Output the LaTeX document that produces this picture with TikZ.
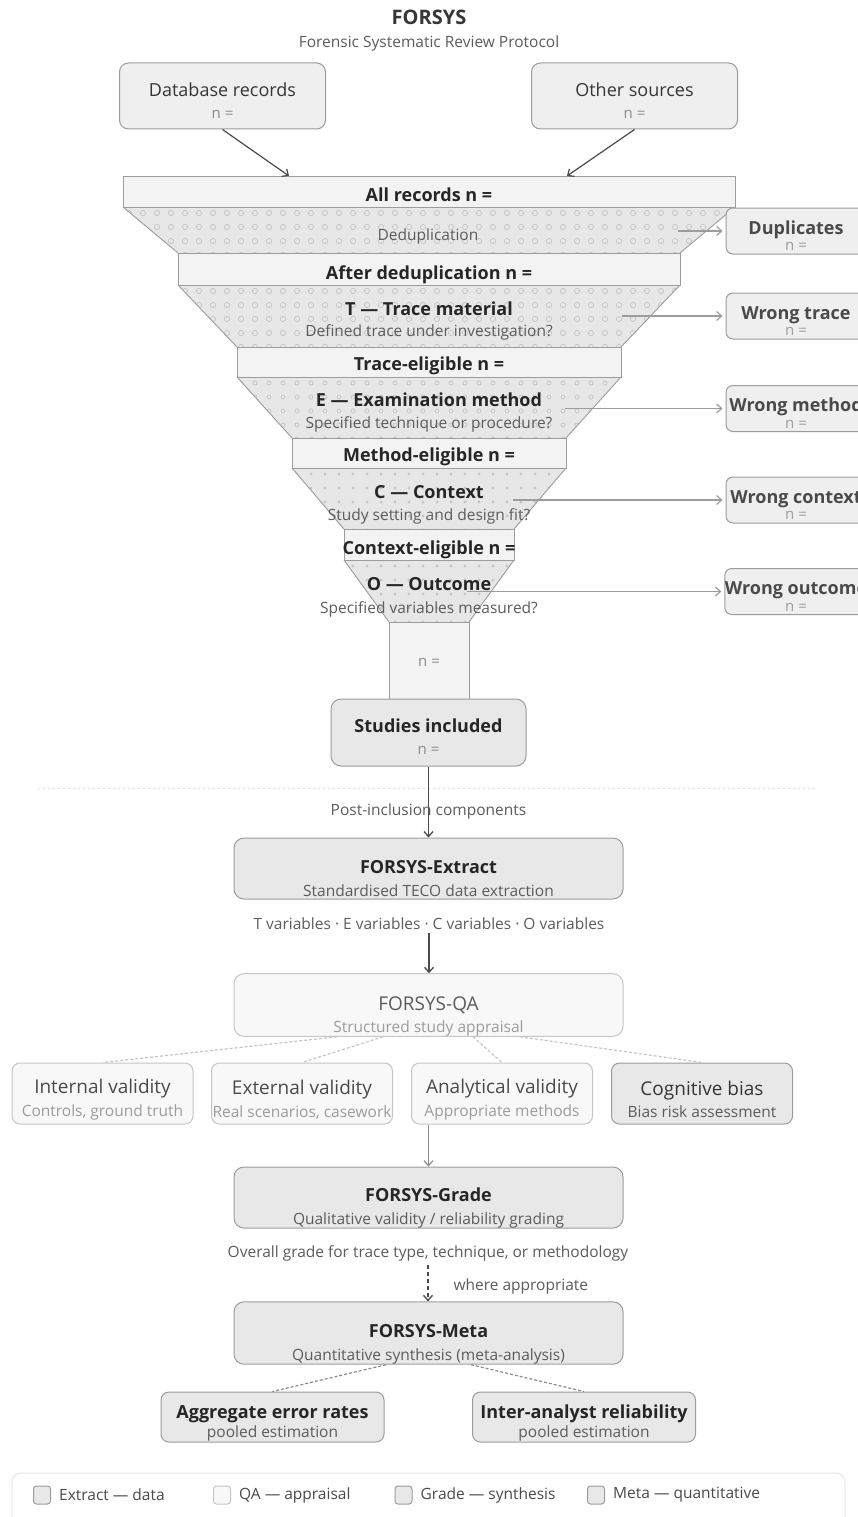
\documentclass[tikz,border=0pt]{standalone}
\usepackage{fontspec}
\setmainfont{Open Sans}
\usetikzlibrary{arrows.meta, positioning}
\definecolor{inkdark}{HTML}{262626}
\definecolor{inkmid}{HTML}{363636}
\definecolor{inksoft}{HTML}{4A4A4A}
\definecolor{inkgray}{HTML}{5C5C5C}
\definecolor{inklight}{HTML}{8C8C8C}
\definecolor{inkfaint}{HTML}{9C9C9C}
\definecolor{edgegray}{HTML}{9C9C9C}
\definecolor{edgelight}{HTML}{C6C6C6}
\definecolor{barfill}{HTML}{F3F3F3}
\definecolor{trapfill}{HTML}{E7E7E7}
\definecolor{dotgray}{HTML}{C4C4C4}
\definecolor{srcfill}{HTML}{EFEFEF}
\definecolor{compfill}{HTML}{E8E8E8}
\definecolor{palefill}{HTML}{F8F8F8}
\definecolor{rulegray}{HTML}{DDDDDD}
\newcommand{\fsSub}{\fontsize{15.5}{18}\selectfont}
\newcommand{\fsN}{\fontsize{15}{18}\selectfont}
\newcommand{\lift}[1]{\rule{0pt}{#1pt}}
\tikzset{
  headtext/.style={font=\bfseries\fontsize{20}{24}\selectfont, text=inkmid, anchor=base},
  notetext/.style={font=\fsSub, text=inkgray, anchor=base},
  srcbox/.style={draw=edgegray, fill=srcfill, line width=1pt, rounded corners=9pt,
                 minimum width=206, minimum height=66, inner sep=0pt, align=center,
                 text=inkmid, font=\fontsize{18}{22.3}\selectfont},
  barline/.style={draw=edgegray, fill=barfill, line width=0.9pt},
  trapedge/.style={draw=edgegray, line width=0.9pt},
  ring/.style={draw=dotgray, line width=0.7pt},
  bartext/.style={font=\bfseries\fontsize{18}{22}\selectfont, text=inkdark, anchor=base},
  exbox/.style={draw=edgegray, fill=srcfill, line width=1pt, rounded corners=7pt,
                minimum width=140, minimum height=46, inner sep=0pt, align=center,
                text=inksoft, font=\bfseries\fontsize{18}{16.5}\selectfont},
  stage/.style={draw=edgegray, fill=compfill, line width=1pt, rounded corners=10pt,
                minimum width=389, minimum height=61, inner sep=0pt, align=center,
                text=inkdark, font=\bfseries\fontsize{18}{23}\selectfont},
  facet/.style={draw=edgelight, fill=palefill, line width=1pt, rounded corners=8pt,
                minimum width=181, minimum height=61, inner sep=0pt, align=center,
                text=inksoft, font=\fontsize{19}{22.7}\selectfont},
  poolbox/.style={draw=edgegray, fill=compfill, line width=1pt, rounded corners=8pt,
                  minimum width=223, minimum height=50, inner sep=0pt, align=center,
                  text=inkdark, font=\bfseries\fontsize{18}{18.4}\selectfont},
  feed/.style={draw=inksoft, line width=1.2pt, -{Straight Barb[length=5pt, width=9pt]}},
  gatearrow/.style={draw=edgegray, line width=1.2pt, -{Straight Barb[length=5pt, width=9pt]}, shorten >=3pt},
  flow/.style={draw=inksoft, line width=1.3pt, -{Straight Barb[length=5pt, width=9pt]}},
  softflow/.style={draw=inklight, line width=1.2pt, -{Straight Barb[length=5pt, width=9pt]}},
  qaline/.style={draw=edgelight, line width=1.2pt, dash pattern=on 3pt off 2pt},
  metaline/.style={draw=inklight, line width=1.2pt, dash pattern=on 3pt off 2pt},
  sepline/.style={draw=rulegray, line width=1pt, dash pattern=on 2pt off 3pt},
  legframe/.style={draw=rulegray!70, fill=white, line width=1pt, rounded corners=9pt},
  chk/.style={draw=edgegray, fill=compfill, line width=1pt, rounded corners=3pt,
              minimum width=17, minimum height=18, inner sep=0pt},
  legtxt/.style={font=\fsSub, text=inksoft, inner sep=0pt},
}

\begin{document}
\begin{tikzpicture}[x=1pt, y=-1pt]
  \useasboundingbox (0,0) rectangle (858,1517);
  \clip (0,0) rectangle (858,1517);
  \fill[white] (0,0) rectangle (858,1517);

  % heading
  \node[headtext] (title) at (429,25) {FORSYS};
  \node[notetext] (subtitle) at (429,47.7) {Forensic Systematic Review Protocol};

  % record sources
  \node[srcbox] (db) at (222.5,96) {\lift{23.7}Database records\\{\fsN\color{inklight}n =}};
  \node[srcbox] (other) at (634.5,96) {\lift{23.7}Other sources\\{\fsN\color{inklight}n =}};

  % funnel gates (dotted trapezoids)
  \foreach \ya/\xa/\yb/\xb/\dotr in {207/123/253/178/2.6, 285/178/347/237/2.6,
      377/237/438/292/2, 468/292/529/344/1.2, 560/344/622/389/1.2}{
    \begin{scope}
      \clip (\xa,\ya) -- ({858-\xa},\ya) -- ({858-\xb},\yb) -- (\xb,\yb) -- cycle;
      \fill[trapfill] (\xa,\ya) rectangle ({858-\xa},\yb);
      \foreach \row in {0,...,4}
        \foreach \col in {8,...,52}
          \path[ring] ({3+14*\col},{\ya+6+14*\row}) circle (\dotr);
    \end{scope}
    \draw[trapedge] (\xa,\ya) -- (\xb,\yb) ({858-\xa},\ya) -- ({858-\xb},\yb);
  }

  % funnel counts
  \draw[barline] (123,176) rectangle (735,207);
  \draw[barline] (178,253) rectangle (680,285);
  \draw[barline] (237,347) rectangle (621,377);
  \draw[barline] (292,438) rectangle (566,468);
  \draw[barline] (344,529) rectangle (514,560);
  \draw[barline] (389,622) rectangle (469,699);

  \node[bartext] (allrec) at (429,201.7) {All records n =};
  \node[bartext] (afterdup) at (429,279.3) {After deduplication n =};
  \node[bartext] (traceok) at (429,370) {Trace-eligible n =};
  \node[bartext] (methodok) at (429,461.7) {Method-eligible n =};
  \node[bartext] (contextok) at (429,554) {Context-eligible n =};
  \node[notetext, font=\fsN, text=inklight] (outn) at (429,666.7) {n =};

  \node[notetext] (dedup) at (428,240.7) {Deduplication};
  \node[bartext] (gatet) at (429,315) {T — Trace material};
  \node[notetext] (gatetq) at (429,336) {Defined trace under investigation?};
  \node[bartext] (gatee) at (429,406.7) {E — Examination method};
  \node[notetext] (gateeq) at (429,428.3) {Specified technique or procedure?};
  \node[bartext] (gatec) at (429,498.3) {C — Context};
  \node[notetext] (gatecq) at (429,520) {Study setting and design fit?};
  \node[bartext] (gateo) at (429,590) {O — Outcome};
  \node[notetext] (gateoq) at (429,613.3) {Specified variables measured?};

  \coordinate (inl) at (289,176);
  \coordinate (inr) at (567,176);
  \draw[feed] (db.south) -- (inl);
  \draw[feed] (other.south) -- (inr);

  % exclusions
  \node[exbox] (dups) at (796,231) {\lift{22.7}Duplicates\\{\mdseries\fsN\color{inkfaint}n =}};
  \node[exbox] (wtrace) at (796,316) {\lift{23}Wrong trace\\{\mdseries\fsN\color{inkfaint}n =}};
  \node[exbox] (wmethod) at (796,408.5) {\lift{23}Wrong method\\{\mdseries\fsN\color{inkfaint}n =}};
  \node[exbox] (wcontext) at (796,500) {\lift{23}Wrong context\\{\mdseries\fsN\color{inkfaint}n =}};
  \node[exbox] (woutcome) at (796,591.5) {\lift{23}Wrong outcome\\{\mdseries\fsN\color{inkfaint}n =}};

  \coordinate (dedupout) at (678,231);
  \coordinate (tout) at (622,316);
  \coordinate (eout) at (565,408.5);
  \coordinate (cout) at (513,500);
  \coordinate (oout) at (467,591.5);
  \draw[gatearrow] (dedupout) -- (dups);
  \draw[gatearrow] (tout) -- (wtrace);
  \draw[gatearrow] (eout) -- (wmethod);
  \draw[gatearrow] (cout) -- (wcontext);
  \draw[gatearrow] (oout) -- (woutcome);

  % included studies
  \node[stage, minimum width=195, minimum height=67, font=\bfseries\fontsize{18}{22.3}\selectfont]
    (studies) at (428.5,732.5) {\lift{22}Studies included\\{\mdseries\fsN\color{inklight}n =}};

  \draw[sepline] (38,788) -- (815,788);
  \node[notetext] (postlbl) at (428.5,815) {Post-inclusion components};

  % post-inclusion components
  \node[stage] (extract) at (428.5,868.5)
    {\lift{33.7}FORSYS-Extract\\{\mdseries\fsSub\color{inkgray}Standardised TECO data extraction}};
  \node[notetext] (tvars) at (429,929.3) {T variables · E variables · C variables · O variables};
  \node[stage, draw=edgelight, fill=palefill, text=inkgray, font=\fontsize{19}{22.4}\selectfont]
    (qa) at (428.5,1005) {\lift{36.4}FORSYS-QA\\{\fsSub\color{inkfaint}Structured study appraisal}};

  \node[facet] (intv) at (102.5,1093.5) {\lift{26.4}Internal validity\\{\fsSub\color{inkfaint}Controls, ground truth}};
  \node[facet] (extv) at (302,1093.5) {\lift{26.4}External validity\\{\fsSub\color{inkfaint}Real scenarios, casework}};
  \node[facet] (anlv) at (502,1093.5) {\lift{26.4}Analytical validity\\{\fsSub\color{inkfaint}Appropriate methods}};
  \node[facet, draw=edgegray, fill=compfill, text=inkmid] (cogb) at (702,1093.5)
    {\lift{26.4}Cognitive bias\\{\fsSub\color{inkgray}Bias risk assessment}};

  \node[stage] (grade) at (428.5,1197.5)
    {\lift{33.7}FORSYS-Grade\\{\mdseries\fsSub\color{inkgray}Qualitative validity / reliability grading}};
  \node[notetext] (ograde) at (428,1257.3) {Overall grade for trace type, technique, or methodology};
  \node[notetext, anchor=base west] (whereapp) at (450,1290.7) {where appropriate};
  \node[stage] (meta) at (428.5,1333)
    {\lift{35.7}FORSYS-Meta\\{\mdseries\fsSub\color{inkgray}Quantitative synthesis (meta-analysis)}};

  \node[poolbox] (aggr) at (272.5,1417) {\lift{25.7}Aggregate error rates\\{\mdseries\fsSub\color{inkgray}pooled estimation}};
  \node[poolbox] (inter) at (584,1417) {\lift{25.7}Inter-analyst reliability\\{\mdseries\fsSub\color{inkgray}pooled estimation}};

  \draw[flow] (studies.south) -- (extract.north);
  \draw[flow] (tvars.south) -- (tvars.south |- qa.north);
  \draw[qaline] ([xshift=-91.5]qa.south) -- (intv.north);
  \draw[qaline] ([xshift=-45.5]qa.south) -- (extv.north);
  \draw[qaline] ([xshift=44.5]qa.south) -- (anlv.north);
  \draw[qaline] ([xshift=91.5]qa.south) -- (cogb.north);
  \draw[softflow] (anlv.south -| grade.north) -- (grade.north);
  \draw[flow, dash pattern=on 4pt off 3pt] (ograde.south) -- (ograde.south |- meta.north);
  \draw[metaline] ([xshift=-42.5]meta.south) -- (aggr.north);
  \draw[metaline] ([xshift=42.5]meta.south) -- (inter.north);

  % legend
  \draw[legframe] (12,1473) rectangle (845,1540);
  \node[chk] (lgext) at (42,1495) {};
  \node[legtxt, right=8pt of lgext] (lgextt) {Extract — data};
  \node[chk, draw=edgelight, fill=palefill] (lgqa) at (222,1495) {};
  \node[legtxt, right=8pt of lgqa] (lgqat) {QA — appraisal};
  \node[chk] (lggrade) at (403.5,1495) {};
  \node[legtxt, right=8pt of lggrade] (lggradet) {Grade — synthesis};
  \node[chk] (lgmeta) at (596,1495) {};
  \node[legtxt, right=8pt of lgmeta] (lgmetat) {Meta — quantitative};
\end{tikzpicture}
\end{document}
